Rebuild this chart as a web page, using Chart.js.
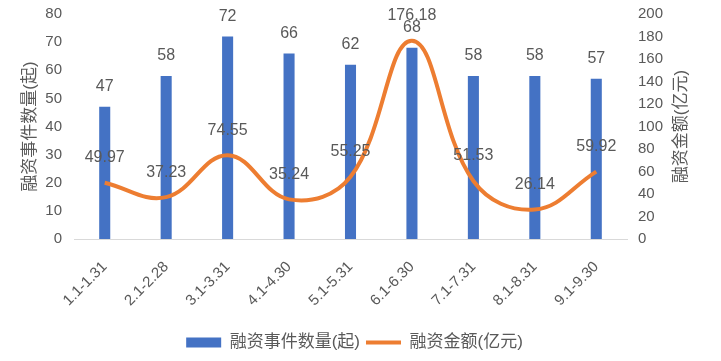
<!DOCTYPE html>
<html><head><meta charset="utf-8">
<script src="https://cdn.jsdelivr.net/npm/chart.js@4/dist/chart.umd.min.js"></script>
<style>html,body{margin:0;padding:0;background:#fff;}#wrap{width:721px;height:361px;}</style>
</head><body>
<div id="wrap"><canvas id="c" width="721" height="361"></canvas></div>
<script>
const categories = ["1.1-1.31","2.1-2.28","3.1-3.31","4.1-4.30","5.1-5.31","6.1-6.30","7.1-7.31","8.1-8.31","9.1-9.30"];
const eventCounts = [47,58,72,66,62,68,58,58,57];
const amounts = [49.97,37.23,74.55,35.24,55.25,176.18,51.53,26.14,59.92];
const leftAxisTicks = [0,10,20,30,40,50,60,70,80];
const rightAxisTicks = [0,20,40,60,80,100,120,140,160,180,200];
const seriesNames = ["融资事件数量(起)","融资金额(亿元)"];
const axisTitles = ["融资事件数量(起)","融资金额(亿元)"];

const BLUE = '#4472C4', ORANGE = '#ED7D31', TEXT = '#595959';
const FONT = '"Liberation Sans", "Noto Sans CJK SC", sans-serif';
Chart.defaults.font.family = FONT;
Chart.defaults.color = TEXT;

const valueLabels = {
  id: 'valueLabels',
  afterDatasetsDraw(chart) {
    const ctx = chart.ctx;
    ctx.save();
    ctx.font = '16px ' + FONT;
    ctx.fillStyle = TEXT;
    ctx.textAlign = 'center';
    ctx.textBaseline = 'middle';
    chart.data.datasets.forEach((ds, i) => {
      const meta = chart.getDatasetMeta(i);
      meta.data.forEach((el, j) => {
        const v = ds.data[j];
        const txt = ds.type === 'line' ? v.toFixed(2) : String(v);
        const off = ds.type === 'line' ? 25 : 20;
        ctx.fillText(txt, el.x, el.y - off);
      });
    });
    const a = chart.chartArea;
    const cy = (a.top + a.bottom) / 2;
    ctx.font = '17px ' + FONT;
    [[chart.scales.y.left + 30, axisTitles[0]], [chart.scales.y1.left + 54, axisTitles[1]]].forEach(([x, t]) => {
      ctx.save();
      ctx.translate(x, cy);
      ctx.rotate(-Math.PI / 2);
      ctx.fillText(t, 0, 0);
      ctx.restore();
    });
    ctx.restore();
  }
};

new Chart(document.getElementById('c'), {
  data: {
    labels: categories,
    datasets: [
      { type: 'bar', label: seriesNames[0], data: eventCounts, backgroundColor: BLUE,
        yAxisID: 'y', order: 1, barPercentage: 0.18, categoryPercentage: 1 },
      { type: 'line', label: seriesNames[1], data: amounts, borderColor: ORANGE, backgroundColor: ORANGE,
        borderWidth: 4, pointRadius: 0, tension: 0.4, yAxisID: 'y1', order: 0, fill: false }
    ]
  },
  plugins: [valueLabels],
  options: {
    responsive: false,
    animation: false,
    layout: { padding: { left: 0, right: 12, top: 14, bottom: 0 } },
    plugins: {
      tooltip: { enabled: false },
      legend: {
        position: 'bottom',
        labels: {
          usePointStyle: true, pointStyleWidth: 35, boxHeight: 10, padding: 6,
          font: { size: 17 }, color: TEXT,
          generateLabels() {
            return [
              { text: seriesNames[0], fillStyle: BLUE, strokeStyle: BLUE, lineWidth: 0, pointStyle: 'rect', datasetIndex: 0, fontColor: TEXT },
              { text: seriesNames[1], fillStyle: ORANGE, strokeStyle: ORANGE, lineWidth: 4, pointStyle: 'line', datasetIndex: 1, fontColor: TEXT }
            ];
          }
        }
      }
    },
    scales: {
      x: {
        grid: { display: false, drawTicks: false },
        border: { display: true, color: '#D9D9D9', width: 1 },
        ticks: { minRotation: 45, maxRotation: 45, padding: 19, font: { size: 15 }, color: TEXT, autoSkip: false },
        afterFit(s) { s.height = 89; }
      },
      y: {
        position: 'left', min: 0, max: 80,
        grid: { display: false, drawTicks: false },
        border: { display: false },
        afterBuildTicks(s) { s.ticks = leftAxisTicks.map(v => ({ value: v })); },
        ticks: { padding: 12, font: { size: 15, lineHeight: 0.2 }, color: TEXT, autoSkip: false },
        afterFit(s) { s.width = 74; }
      },
      y1: {
        position: 'right', min: 0, max: 200,
        grid: { display: false, drawTicks: false },
        border: { display: false },
        afterBuildTicks(s) { s.ticks = rightAxisTicks.map(v => ({ value: v })); },
        ticks: { padding: 11, font: { size: 15, lineHeight: 0.2 }, color: TEXT, autoSkip: false },
        afterFit(s) { s.width = 82; }
      }
    }
  }
});
</script>
</body></html>
